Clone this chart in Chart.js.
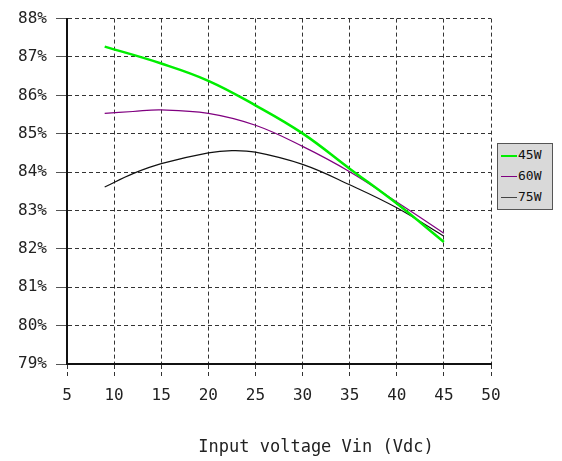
<!DOCTYPE html>
<html>
<head>
<meta charset="utf-8">
<script src="https://cdn.jsdelivr.net/npm/chart.js@4/dist/chart.umd.min.js"></script>
<style>
  body { margin: 0; background: #fff; }
  #wrap { position: relative; width: 562px; height: 461px; }
  #legend {
    position: absolute; left: 497px; top: 143px; width: 54px; height: 65px;
    background: #d9d9d9; border: 1px solid #555;
    font: 13px "DejaVu Sans Mono", monospace; color: #111;
  }
  .item { position: absolute; left: 3px; height: 14px; line-height: 14px; }
  .item i { display: inline-block; width: 16px; vertical-align: middle; margin-right: 1px; }
</style>
</head>
<body>
<div id="wrap">
  <canvas id="effChart" width="562" height="461"></canvas>
  <div id="legend"></div>
</div>
<script>
const seriesNames = ['45W', '60W', '75W'];
const seriesColors = ['#00ee00', '#800080', '#111111'];
const seriesWidths = [2.5, 1.2, 1.2];

const vin45 = [9, 15, 20, 25, 30, 35, 40, 45];
const eff45 = [87.27, 86.83, 86.38, 85.74, 85.01, 84.09, 83.18, 82.18];

const vin60 = [9, 12, 15, 20, 25, 30, 35, 40, 45];
const eff60 = [85.53, 85.58, 85.62, 85.53, 85.22, 84.67, 84.01, 83.22, 82.41];

const vin75 = [9, 12, 15, 20, 22.5, 25, 30, 35, 40, 45];
const eff75 = [83.61, 83.96, 84.22, 84.5, 84.56, 84.52, 84.2, 83.67, 83.07, 82.33];

const xTitle = 'Input voltage Vin (Vdc)';

const FONT = '"DejaVu Sans Mono", monospace';

function pts(xs, ys) {
  return xs.map((x, i) => ({ x: x, y: ys[i] }));
}

const allVin = [vin45, vin60, vin75];
const allEff = [eff45, eff60, eff75];

const datasets = seriesNames.map((name, i) => ({
  label: name,
  data: pts(allVin[i], allEff[i]),
  borderColor: seriesColors[i],
  borderWidth: seriesWidths[i],
  pointRadius: 0,
  fill: false,
  tension: 0.4
}));

const titlePlugin = {
  id: 'bottomTitle',
  afterDraw(chart) {
    const c = chart.ctx;
    c.save();
    c.font = '17px ' + FONT;
    c.fillStyle = '#222';
    c.textAlign = 'center';
    c.textBaseline = 'alphabetic';
    c.fillText(xTitle, 316, 452);
    c.restore();
  }
};

const ctx = document.getElementById('effChart').getContext('2d');

const effChart = new Chart(ctx, {
  type: 'line',
  data: { datasets: datasets },
  options: {
    responsive: false,
    animation: false,
    layout: { padding: { left: 0, top: 13, right: 71, bottom: 0 } },
    plugins: {
      legend: { display: false },
      tooltip: { enabled: false }
    },
    scales: {
      x: {
        type: 'linear',
        min: 5,
        max: 50,
        afterFit: s => { s.height = 97; },
        ticks: { stepSize: 5, padding: 10, color: '#222', font: { family: FONT, size: 16 } },
        grid: { color: '#333', lineWidth: 1, tickLength: 12, tickBorderDash: [4, 3] },
        border: { display: true, color: '#111', width: 2, dash: [4, 3] }
      },
      y: {
        min: 79,
        max: 88,
        afterFit: s => { s.width = 67; },
        ticks: {
          stepSize: 1, padding: 9, color: '#222',
          font: { family: FONT, size: 16 },
          callback: v => v + '%'
        },
        grid: { color: '#333', lineWidth: 1, tickLength: 11, tickBorderDash: [], tickColor: '#555' },
        border: { display: true, color: '#111', width: 2, dash: [4, 3] }
      }
    }
  },
  plugins: [titlePlugin]
});

// legend box built from the dataset list
const legend = document.getElementById('legend');
seriesNames.forEach((name, i) => {
  const row = document.createElement('div');
  row.className = 'item';
  row.style.top = (4 + i * 21) + 'px';
  const line = document.createElement('i');
  line.style.borderTop = (i === 0 ? 2 : 1) + 'px solid ' + (i === 2 ? '#444' : seriesColors[i]);
  row.appendChild(line);
  row.appendChild(document.createTextNode(name));
  legend.appendChild(row);
});
</script>
</body>
</html>
